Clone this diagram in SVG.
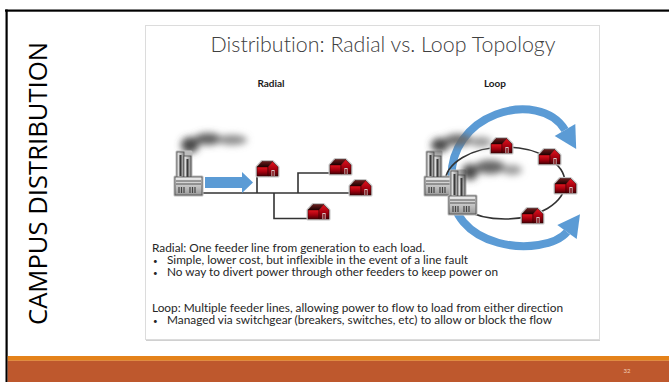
<svg xmlns="http://www.w3.org/2000/svg" xmlns:xlink="http://www.w3.org/1999/xlink" width="669" height="382" viewBox="0 0 669 382">
  <style>
    text{font-variant-ligatures:none;font-feature-settings:"liga" 0}
    .body{font-family:Lato,"Liberation Sans",sans-serif;font-size:11px;fill:#262626}
    .dot{font-family:Lato,"Liberation Sans",sans-serif;font-size:8px;fill:#262626}
    .head{font-family:Lato,"Liberation Sans",sans-serif;font-size:10px;font-weight:bold;fill:#1a1a1a;text-anchor:middle}
    .wire{fill:none;stroke:#333;stroke-width:1.6}
    .flow{fill:none;stroke:#5b9bd5;stroke-width:8}
    .flowhead{fill:#5b9bd5}
    .smoke{filter:url(#haze)}
  </style>
  <defs>
    <linearGradient id="wall" x1="0" y1="0" x2="0" y2="1">
      <stop offset="0" stop-color="#e3141f"/>
      <stop offset="0.55" stop-color="#a3000e"/>
      <stop offset="1" stop-color="#4a0006"/>
    </linearGradient>
    <linearGradient id="roof" x1="0" y1="0" x2="0" y2="1">
      <stop offset="0" stop-color="#6a1a1a"/>
      <stop offset="1" stop-color="#1c0202"/>
    </linearGradient>
    <linearGradient id="metal" x1="0" y1="0" x2="1" y2="0">
      <stop offset="0" stop-color="#f2f2f2"/>
      <stop offset="1" stop-color="#8e8e8e"/>
    </linearGradient>
    <linearGradient id="metalBase" x1="0" y1="0" x2="0" y2="1">
      <stop offset="0" stop-color="#eeeeee"/>
      <stop offset="1" stop-color="#9a9a9a"/>
    </linearGradient>
    <filter id="haze" x="-50%" y="-50%" width="200%" height="200%">
      <feGaussianBlur stdDeviation="3.5"/>
    </filter>
    <!-- barn-shaped load -->
    <g id="houseShape">
      <path d="M1 7 L6 1.5 H16.5 L22 7 V16 H1 Z" fill="#c4c4c4" stroke="#c4c4c4" stroke-width="3" stroke-linejoin="round"/>
      <path d="M1 7 L6 1.5 H16.5 L12 7 Z" fill="url(#roof)" stroke="#300" stroke-width="0.5"/>
      <rect x="1" y="7" width="11" height="9" fill="url(#wall)" stroke="#300" stroke-width="0.5"/>
      <path d="M12 7 L16.5 1.5 L22 7 V16 H12 Z" fill="url(#wall)" stroke="#300" stroke-width="0.5"/>
      <rect x="15.5" y="10" width="3" height="6" fill="#e8e8e8"/>
      <rect x="16.2" y="10.8" width="1.6" height="5.2" fill="#7a0a10"/>
    </g>
    <!-- generating plant -->
    <g id="factoryShape">
      <path d="M2 0 H16 V25 H27 V43 H0 V25 H2 Z" fill="#bdbdbd" stroke="#bdbdbd" stroke-width="3" stroke-linejoin="round"/>
      <rect x="2" y="0" width="7" height="27" fill="url(#metal)" stroke="#4d4d4d" stroke-width="0.8"/>
      <rect x="9" y="4" width="7" height="23" fill="url(#metal)" stroke="#4d4d4d" stroke-width="0.8"/>
      <rect x="4.5" y="3" width="2" height="21" fill="#3a3a3a"/>
      <rect x="11.5" y="7" width="2" height="18" fill="#3a3a3a"/>
      <rect x="0" y="25" width="27" height="18" fill="url(#metalBase)" stroke="#4d4d4d" stroke-width="0.8"/>
      <path d="M1 29 H26 M1 32 H26" stroke="#555" stroke-width="1"/>
      <path d="M4 35 V41 M6.5 35 V41 M9 35 V41 M15 35 V41 M17.5 35 V41 M20 35 V41" stroke="#444" stroke-width="1.2"/>
    </g>
  </defs>

  <!-- slide frame -->
  <rect x="0" y="0" width="669" height="382" fill="#ffffff"/>
  <rect x="5" y="9.5" width="664" height="2.2" fill="#000"/>
  <rect x="5.5" y="9.5" width="2.2" height="372.5" fill="#000"/>
  <rect x="7.7" y="356" width="661.3" height="4.8" fill="#e4821a"/>
  <rect x="7.7" y="360.8" width="661.3" height="21.2" fill="#be582d"/>
  <text x="627" y="373" font-family="Lato,'Liberation Sans',sans-serif" font-size="6" fill="#f3cdb5" text-anchor="middle">32</text>
  <text transform="translate(47,183.5) rotate(-90)" x="0" y="0" text-anchor="middle" font-family="'Open Sans','Liberation Sans',sans-serif" font-size="26" fill="#000" textLength="283" lengthAdjust="spacingAndGlyphs">CAMPUS DISTRIBUTION</text>

  <!-- content panel -->
  <rect x="145.5" y="25.5" width="454" height="314" fill="#fff" stroke="#dcdcdc" stroke-width="1"/>
  <line x1="146" y1="340.5" x2="600" y2="340.5" stroke="#d0d0d0" stroke-width="1.2"/>

  <text x="383" y="51.5" text-anchor="middle" font-family="Lato,'Liberation Sans',sans-serif" font-size="21" font-weight="300" fill="#404040" textLength="345" lengthAdjust="spacingAndGlyphs">Distribution: Radial vs. Loop Topology</text>
  <text class="head" x="271" y="87">Radial</text>
  <text class="head" x="495" y="87">Loop</text>

  <!-- radial feeders -->
  <g id="radial-connectors">
    <path class="wire" d="M199 193 H352 M257 193 V175 M274 193 V218.5 H309 M298 193 V173 H331"/>
    <path class="flowhead" d="M205 177 H242 V172 L253 182.5 L242 193 V188 H205 Z"/>
  </g>
  <g id="radial-smoke" class="smoke">
    <ellipse cx="190" cy="145" rx="9" ry="8" fill="#4a4a4a"/>
    <ellipse cx="208" cy="139" rx="14" ry="6" fill="#5e5e5e"/>
    <ellipse cx="232" cy="140" rx="15" ry="5" fill="#8a8a8a"/>
  </g>
  <g id="radial-plant"><use xlink:href="#factoryShape" x="175" y="152"/></g>
  <g id="radial-load-1"><use xlink:href="#houseShape" x="256" y="160"/></g>
  <g id="radial-load-2"><use xlink:href="#houseShape" x="307" y="203"/></g>
  <g id="radial-load-3"><use xlink:href="#houseShape" x="329" y="158"/></g>
  <g id="radial-load-4"><use xlink:href="#houseShape" x="349" y="179"/></g>

  <!-- loop feeders -->
  <g id="loop-connectors">
    <path class="flow" d="M452 185 C444 112 540 88 565 130"/>
    <path class="flowhead" d="M575.3 123.9 L576.2 148.9 L554.7 136.1 Z"/>
    <path class="flow" d="M452 180 C444 252 545 258 567 232"/>
    <path class="flowhead" d="M576.7 239.1 L580 214.3 L557.3 224.9 Z"/>
    <ellipse class="wire" cx="505" cy="183" rx="60" ry="36"/>
  </g>
  <g id="loop-plant-1"><use xlink:href="#factoryShape" x="425" y="152"/></g>
  <g id="loop-plant-2"><use xlink:href="#factoryShape" x="449" y="171"/></g>
  <g id="loop-smoke" class="smoke">
    <ellipse cx="440" cy="145" rx="9" ry="7" fill="#4a4a4a"/>
    <ellipse cx="458" cy="140" rx="14" ry="6" fill="#6a6a6a"/>
    <ellipse cx="481" cy="142" rx="11" ry="5" fill="#999"/>
    <ellipse cx="470" cy="172" rx="8" ry="8" fill="#4a4a4a"/>
    <ellipse cx="490" cy="167" rx="15" ry="7" fill="#666"/>
    <ellipse cx="512" cy="170" rx="10" ry="5" fill="#999"/>
  </g>
  <g id="loop-load-1"><use xlink:href="#houseShape" x="490" y="137"/></g>
  <g id="loop-load-2"><use xlink:href="#houseShape" x="538" y="148"/></g>
  <g id="loop-load-3"><use xlink:href="#houseShape" x="554" y="177"/></g>
  <g id="loop-load-4"><use xlink:href="#houseShape" x="521" y="207"/></g>

  <!-- notes -->
  <text class="body" x="152" y="251.5" textLength="273" lengthAdjust="spacingAndGlyphs">Radial: One feeder line from generation to each load.</text>
  <text class="dot" x="153" y="263.5">•</text>
  <text class="body" x="167" y="264" textLength="301" lengthAdjust="spacingAndGlyphs">Simple, lower cost, but inflexible in the event of a line fault</text>
  <text class="dot" x="153" y="275.5">•</text>
  <text class="body" x="167" y="276" textLength="331" lengthAdjust="spacingAndGlyphs">No way to divert power through other feeders to keep power on</text>
  <text class="body" x="152" y="312" textLength="411" lengthAdjust="spacingAndGlyphs">Loop: Multiple feeder lines, allowing power to flow to load from either direction</text>
  <text class="dot" x="153" y="323.5">•</text>
  <text class="body" x="167" y="324" textLength="385" lengthAdjust="spacingAndGlyphs">Managed via switchgear (breakers, switches, etc) to allow or block the flow</text>
</svg>
